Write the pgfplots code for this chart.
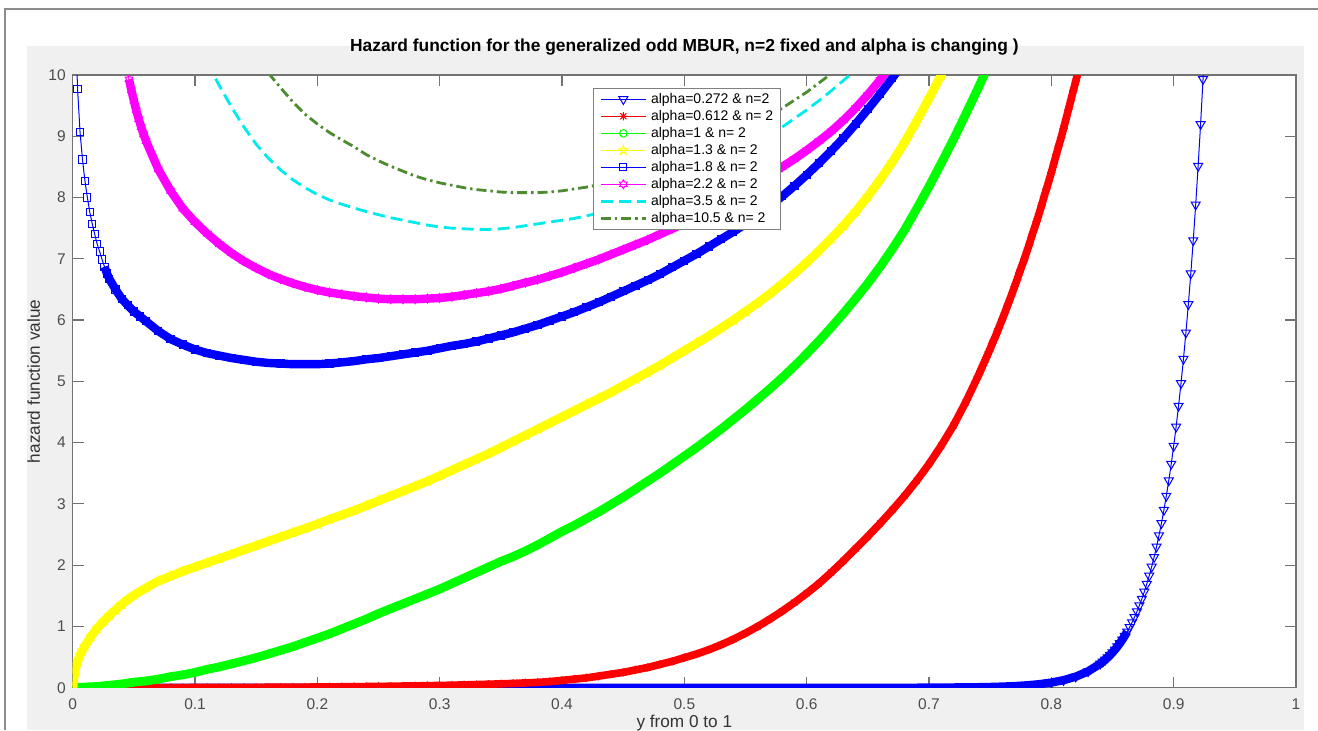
\documentclass[border=0pt]{standalone}
\usepackage{fontspec}
\setmainfont{Liberation Sans}
\usepackage{pgfplots}
\usepackage{pgfplotstable}
\pgfplotsset{compat=1.18}

\definecolor{figgray}{RGB}{240,240,240}
\definecolor{dkgreen}{rgb}{0.30,0.55,0.18}
\definecolor{mblue}{rgb}{0,0,1}
\definecolor{mred}{rgb}{1,0,0}
\definecolor{mgreen}{rgb}{0,1,0}
\definecolor{myellow}{rgb}{1,1,0}
\definecolor{mmagenta}{rgb}{1,0,1}
\definecolor{mcyan}{rgb}{0,0.92,0.92}

\pgfdeclareplotmark{mstar}{%
  \pgfpathmoveto{\pgfqpoint{-\pgfplotmarksize}{0pt}}%
  \pgfpathlineto{\pgfqpoint{\pgfplotmarksize}{0pt}}%
  \pgfpathmoveto{\pgfqpoint{0pt}{-\pgfplotmarksize}}%
  \pgfpathlineto{\pgfqpoint{0pt}{\pgfplotmarksize}}%
  \pgfpathmoveto{\pgfqpoint{-0.707\pgfplotmarksize}{-0.707\pgfplotmarksize}}%
  \pgfpathlineto{\pgfqpoint{0.707\pgfplotmarksize}{0.707\pgfplotmarksize}}%
  \pgfpathmoveto{\pgfqpoint{-0.707\pgfplotmarksize}{0.707\pgfplotmarksize}}%
  \pgfpathlineto{\pgfqpoint{0.707\pgfplotmarksize}{-0.707\pgfplotmarksize}}%
  \pgfusepathqstroke}
\pgfdeclareplotmark{pentagram}{%
  \pgfpathmoveto{\pgfpointpolar{90}{\pgfplotmarksize}}%
  \pgfpathlineto{\pgfpointpolar{126}{0.382\pgfplotmarksize}}%
  \pgfpathlineto{\pgfpointpolar{162}{\pgfplotmarksize}}%
  \pgfpathlineto{\pgfpointpolar{198}{0.382\pgfplotmarksize}}%
  \pgfpathlineto{\pgfpointpolar{234}{\pgfplotmarksize}}%
  \pgfpathlineto{\pgfpointpolar{270}{0.382\pgfplotmarksize}}%
  \pgfpathlineto{\pgfpointpolar{306}{\pgfplotmarksize}}%
  \pgfpathlineto{\pgfpointpolar{342}{0.382\pgfplotmarksize}}%
  \pgfpathlineto{\pgfpointpolar{18}{\pgfplotmarksize}}%
  \pgfpathlineto{\pgfpointpolar{54}{0.382\pgfplotmarksize}}%
  \pgfpathclose\pgfusepathqstroke}
\pgfdeclareplotmark{hexagram}{%
  \pgfpathmoveto{\pgfpointpolar{90}{\pgfplotmarksize}}%
  \pgfpathlineto{\pgfpointpolar{120}{0.577\pgfplotmarksize}}%
  \pgfpathlineto{\pgfpointpolar{150}{\pgfplotmarksize}}%
  \pgfpathlineto{\pgfpointpolar{180}{0.577\pgfplotmarksize}}%
  \pgfpathlineto{\pgfpointpolar{210}{\pgfplotmarksize}}%
  \pgfpathlineto{\pgfpointpolar{240}{0.577\pgfplotmarksize}}%
  \pgfpathlineto{\pgfpointpolar{270}{\pgfplotmarksize}}%
  \pgfpathlineto{\pgfpointpolar{300}{0.577\pgfplotmarksize}}%
  \pgfpathlineto{\pgfpointpolar{330}{\pgfplotmarksize}}%
  \pgfpathlineto{\pgfpointpolar{0}{0.577\pgfplotmarksize}}%
  \pgfpathlineto{\pgfpointpolar{30}{\pgfplotmarksize}}%
  \pgfpathlineto{\pgfpointpolar{60}{0.577\pgfplotmarksize}}%
  \pgfpathclose\pgfusepathqstroke}

% alpha = 0.272
\pgfplotstableread[row sep=\\]{
x y\\
0.00 0\\ 0.01 0\\ 0.02 0\\ 0.03 0\\ 0.04 0\\ 0.05 0\\ 0.06 0\\ 0.07 0\\ 0.08 0\\ 0.09 0\\
0.10 0\\ 0.11 0\\ 0.12 0\\ 0.13 0\\ 0.14 0\\ 0.15 0\\ 0.16 0\\ 0.17 0\\ 0.18 0\\ 0.19 0\\
0.20 0\\ 0.21 0\\ 0.22 0\\ 0.23 0\\ 0.24 0\\ 0.25 0\\ 0.26 0\\ 0.27 0\\ 0.28 0\\ 0.29 0\\
0.30 0\\ 0.31 0\\ 0.32 0\\ 0.33 0\\ 0.34 0\\ 0.35 0\\ 0.36 0\\ 0.37 0\\ 0.38 0\\ 0.39 0\\
0.40 0\\ 0.41 0\\ 0.42 0\\ 0.43 0\\ 0.44 0\\ 0.45 0\\ 0.46 0\\ 0.47 0\\ 0.48 0\\ 0.49 0\\
0.50 0\\ 0.51 0\\ 0.52 0\\ 0.53 0\\ 0.54 0\\ 0.55 0\\ 0.56 0\\ 0.57 0\\ 0.58 0\\ 0.59 0\\
0.60 0\\ 0.61 0\\ 0.62 0\\ 0.63 0\\ 0.64 0\\ 0.65 0\\ 0.66 0\\ 0.67 0\\ 0.68 0\\ 0.69 0\\
0.70 0.002\\ 0.71 0.003\\ 0.72 0.004\\ 0.73 0.006\\ 0.74 0.008\\ 0.75 0.012\\ 0.76 0.018\\
0.77 0.026\\ 0.78 0.039\\ 0.79 0.057\\ 0.80 0.084\\ 0.81 0.123\\ 0.82 0.181\\ 0.83 0.266\\
0.840 0.392\\ 0.842 0.423\\ 0.844 0.457\\ 0.846 0.494\\ 0.848 0.533\\ 0.850 0.575\\
0.852 0.621\\ 0.854 0.671\\ 0.856 0.725\\ 0.858 0.783\\ 0.860 0.846\\ 0.862 0.914\\
0.864 0.987\\ 0.866 1.066\\ 0.868 1.151\\ 0.870 1.243\\ 0.872 1.343\\ 0.874 1.450\\
0.876 1.566\\ 0.878 1.692\\ 0.880 1.827\\ 0.882 1.973\\ 0.884 2.131\\ 0.886 2.301\\
0.888 2.485\\ 0.890 2.684\\ 0.892 2.899\\ 0.894 3.131\\ 0.896 3.381\\ 0.898 3.652\\
0.900 3.944\\ 0.902 4.259\\ 0.904 4.600\\ 0.906 4.968\\ 0.908 5.366\\ 0.910 5.795\\
0.912 6.258\\ 0.914 6.759\\ 0.916 7.300\\ 0.918 7.884\\ 0.920 8.515\\ 0.922 9.196\\
0.924 9.932\\ 0.926 10.73\\
}\tblA

% alpha = 0.612
\pgfplotstableread[row sep=\\]{
x y\\
0.00 0\\ 0.01 0\\ 0.02 0\\ 0.03 0\\ 0.04 0\\ 0.05 0.001\\ 0.06 0.001\\ 0.07 0.001\\ 0.08 0.002\\ 0.09 0.002\\
0.10 0.003\\ 0.11 0.003\\ 0.12 0.004\\ 0.13 0.005\\ 0.14 0.005\\ 0.15 0.006\\ 0.16 0.007\\ 0.17 0.008\\ 0.18 0.009\\ 0.19 0.010\\
0.20 0.012\\ 0.21 0.013\\ 0.22 0.015\\ 0.23 0.017\\ 0.24 0.019\\ 0.25 0.021\\ 0.26 0.024\\ 0.27 0.027\\ 0.28 0.030\\ 0.29 0.033\\
0.30 0.037\\ 0.31 0.041\\ 0.32 0.046\\ 0.33 0.051\\ 0.34 0.057\\ 0.35 0.063\\ 0.36 0.070\\ 0.37 0.078\\ 0.38 0.087\\ 0.39 0.100\\
0.40 0.12\\ 0.41 0.14\\ 0.42 0.16\\ 0.43 0.19\\ 0.44 0.22\\ 0.45 0.25\\ 0.46 0.29\\ 0.47 0.33\\ 0.48 0.38\\ 0.49 0.43\\
0.50 0.49\\ 0.51 0.55\\ 0.52 0.62\\ 0.53 0.70\\ 0.54 0.79\\ 0.55 0.89\\ 0.56 1.00\\ 0.57 1.12\\ 0.58 1.25\\ 0.59 1.39\\
0.60 1.54\\ 0.61 1.70\\ 0.62 1.88\\ 0.63 2.07\\ 0.64 2.27\\ 0.65 2.47\\ 0.66 2.68\\ 0.67 2.90\\ 0.68 3.13\\ 0.69 3.38\\
0.70 3.65\\ 0.71 3.95\\ 0.72 4.28\\ 0.73 4.66\\
0.740 5.08\\ 0.742 5.17\\ 0.744 5.26\\ 0.746 5.35\\ 0.748 5.44\\ 0.750 5.53\\ 0.752 5.63\\ 0.754 5.72\\
0.756 5.82\\ 0.758 5.92\\ 0.760 6.02\\ 0.762 6.12\\ 0.764 6.23\\ 0.766 6.33\\ 0.768 6.44\\ 0.770 6.55\\
0.772 6.66\\ 0.774 6.78\\ 0.776 6.89\\ 0.778 7.00\\ 0.780 7.12\\ 0.782 7.24\\ 0.784 7.37\\ 0.786 7.49\\
0.788 7.61\\ 0.790 7.74\\ 0.792 7.87\\ 0.794 8.01\\ 0.796 8.14\\ 0.798 8.27\\ 0.800 8.41\\ 0.802 8.55\\
0.804 8.70\\ 0.806 8.84\\ 0.808 8.98\\ 0.810 9.13\\ 0.812 9.28\\ 0.814 9.44\\ 0.816 9.59\\ 0.818 9.75\\
0.820 9.90\\ 0.822 10.06\\
}\tblB

% alpha = 1
\pgfplotstableread[row sep=\\]{
x y\\
0.00 0.00\\ 0.01 0.01\\ 0.02 0.02\\ 0.03 0.04\\ 0.04 0.06\\ 0.05 0.09\\ 0.06 0.11\\ 0.07 0.14\\ 0.08 0.18\\ 0.09 0.21\\
0.10 0.25\\ 0.11 0.30\\ 0.12 0.34\\ 0.13 0.39\\ 0.14 0.44\\ 0.15 0.49\\ 0.16 0.55\\ 0.17 0.61\\ 0.18 0.67\\ 0.19 0.74\\
0.20 0.81\\ 0.21 0.88\\ 0.22 0.96\\ 0.23 1.04\\ 0.24 1.12\\ 0.25 1.21\\ 0.26 1.29\\ 0.27 1.37\\ 0.28 1.45\\ 0.29 1.53\\
0.30 1.61\\ 0.31 1.70\\ 0.32 1.79\\ 0.33 1.88\\ 0.34 1.97\\ 0.35 2.06\\ 0.36 2.14\\ 0.37 2.23\\ 0.38 2.33\\ 0.39 2.44\\
0.40 2.55\\ 0.41 2.65\\ 0.42 2.76\\ 0.43 2.87\\ 0.44 2.99\\ 0.45 3.11\\ 0.46 3.24\\ 0.47 3.37\\ 0.48 3.50\\ 0.49 3.64\\
0.50 3.78\\ 0.51 3.92\\ 0.52 4.07\\ 0.53 4.22\\ 0.54 4.38\\ 0.55 4.54\\ 0.56 4.71\\ 0.57 4.88\\ 0.58 5.06\\ 0.59 5.25\\
0.60 5.45\\ 0.61 5.66\\ 0.62 5.88\\ 0.63 6.11\\ 0.64 6.35\\ 0.65 6.60\\ 0.66 6.87\\ 0.67 7.16\\ 0.68 7.47\\ 0.69 7.82\\
0.70 8.18\\ 0.71 8.56\\ 0.72 8.95\\ 0.73 9.36\\ 0.74 9.78\\ 0.75 10.22\\
}\tblC

% alpha = 1.3
\pgfplotstableread[row sep=\\]{
x y\\
0.000 0.00\\ 0.002 0.30\\ 0.004 0.43\\ 0.006 0.53\\ 0.008 0.61\\ 0.010 0.68\\ 0.015 0.84\\ 0.020 0.97\\
0.025 1.08\\ 0.030 1.18\\ 0.035 1.27\\ 0.040 1.36\\ 0.045 1.44\\
0.05 1.51\\ 0.06 1.63\\ 0.07 1.74\\ 0.08 1.82\\ 0.09 1.90\\
0.10 1.97\\ 0.11 2.04\\ 0.12 2.11\\ 0.13 2.18\\ 0.14 2.25\\ 0.15 2.32\\ 0.16 2.39\\ 0.17 2.46\\ 0.18 2.53\\ 0.19 2.60\\
0.20 2.67\\ 0.21 2.75\\ 0.22 2.82\\ 0.23 2.89\\ 0.24 2.97\\ 0.25 3.05\\ 0.26 3.13\\ 0.27 3.21\\ 0.28 3.29\\ 0.29 3.37\\
0.30 3.46\\ 0.31 3.55\\ 0.32 3.64\\ 0.33 3.73\\ 0.34 3.82\\ 0.35 3.92\\ 0.36 4.02\\ 0.37 4.12\\ 0.38 4.22\\ 0.39 4.32\\
0.40 4.42\\ 0.41 4.52\\ 0.42 4.62\\ 0.43 4.72\\ 0.44 4.82\\ 0.45 4.93\\ 0.46 5.04\\ 0.47 5.15\\ 0.48 5.26\\ 0.49 5.38\\
0.50 5.50\\ 0.51 5.62\\ 0.52 5.74\\ 0.53 5.87\\ 0.54 6.00\\ 0.55 6.14\\ 0.56 6.28\\ 0.57 6.43\\ 0.58 6.59\\ 0.59 6.76\\
0.60 6.94\\ 0.61 7.13\\ 0.62 7.33\\ 0.63 7.54\\ 0.64 7.77\\ 0.65 8.02\\ 0.66 8.29\\ 0.67 8.58\\ 0.68 8.90\\ 0.69 9.25\\
0.70 9.62\\ 0.71 10.00\\ 0.72 10.40\\
}\tblD

% alpha = 1.8
\pgfplotstableread[row sep=\\]{
x y\\
0.002 10.90\\ 0.004 9.77\\ 0.006 9.07\\ 0.008 8.62\\ 0.010 8.27\\ 0.012 8.00\\ 0.014 7.76\\ 0.016 7.57\\
0.018 7.40\\ 0.020 7.24\\ 0.022 7.12\\ 0.024 6.99\\ 0.026 6.87\\ 0.028 6.76\\ 0.030 6.67\\ 0.035 6.50\\
0.040 6.35\\ 0.045 6.24\\ 0.050 6.14\\ 0.055 6.06\\
0.06 5.98\\ 0.07 5.82\\ 0.08 5.69\\ 0.09 5.60\\
0.10 5.52\\ 0.11 5.46\\ 0.12 5.42\\ 0.13 5.38\\ 0.14 5.35\\ 0.15 5.32\\ 0.16 5.30\\ 0.17 5.29\\ 0.18 5.28\\ 0.19 5.28\\
0.20 5.28\\ 0.21 5.29\\ 0.22 5.31\\ 0.23 5.33\\ 0.24 5.36\\ 0.25 5.38\\ 0.26 5.41\\ 0.27 5.44\\ 0.28 5.47\\ 0.29 5.50\\
0.30 5.54\\ 0.31 5.58\\ 0.32 5.61\\ 0.33 5.65\\ 0.34 5.70\\ 0.35 5.75\\ 0.36 5.80\\ 0.37 5.86\\ 0.38 5.92\\ 0.39 5.99\\
0.40 6.06\\ 0.41 6.13\\ 0.42 6.21\\ 0.43 6.29\\ 0.44 6.38\\ 0.45 6.47\\ 0.46 6.56\\ 0.47 6.65\\ 0.48 6.75\\ 0.49 6.86\\
0.50 6.97\\ 0.51 7.08\\ 0.52 7.20\\ 0.53 7.32\\ 0.54 7.44\\ 0.55 7.57\\ 0.56 7.71\\ 0.57 7.86\\ 0.58 8.02\\ 0.59 8.19\\
0.60 8.37\\ 0.61 8.56\\ 0.62 8.76\\ 0.63 8.97\\ 0.64 9.20\\ 0.65 9.44\\ 0.66 9.69\\ 0.67 9.95\\ 0.68 10.22\\
}\tblE

% alpha = 2.2
\pgfplotstableread[row sep=\\]{
x y\\
0.044 10.12\\ 0.046 9.93\\ 0.048 9.75\\ 0.050 9.58\\ 0.052 9.42\\ 0.054 9.28\\ 0.056 9.15\\ 0.058 9.03\\
0.06 8.92\\ 0.07 8.46\\ 0.08 8.11\\ 0.09 7.82\\
0.10 7.60\\ 0.11 7.41\\ 0.12 7.24\\ 0.13 7.09\\ 0.14 6.96\\ 0.15 6.85\\ 0.16 6.75\\ 0.17 6.67\\ 0.18 6.60\\ 0.19 6.54\\
0.20 6.49\\ 0.21 6.45\\ 0.22 6.42\\ 0.23 6.39\\ 0.24 6.37\\ 0.25 6.35\\ 0.26 6.34\\ 0.27 6.34\\ 0.28 6.34\\ 0.29 6.35\\
0.30 6.36\\ 0.31 6.38\\ 0.32 6.41\\ 0.33 6.44\\ 0.34 6.47\\ 0.35 6.51\\ 0.36 6.56\\ 0.37 6.61\\ 0.38 6.66\\ 0.39 6.72\\
0.40 6.78\\ 0.41 6.85\\ 0.42 6.92\\ 0.43 6.99\\ 0.44 7.07\\ 0.45 7.15\\ 0.46 7.23\\ 0.47 7.31\\ 0.48 7.40\\ 0.49 7.49\\
0.50 7.58\\ 0.51 7.68\\ 0.52 7.78\\ 0.53 7.89\\ 0.54 8.00\\ 0.55 8.12\\ 0.56 8.24\\ 0.57 8.37\\ 0.58 8.50\\ 0.59 8.63\\
0.60 8.77\\ 0.61 8.92\\ 0.62 9.08\\ 0.63 9.26\\ 0.64 9.46\\ 0.65 9.68\\ 0.66 9.92\\ 0.67 10.18\\
}\tblF

% alpha = 3.5
\pgfplotstableread[row sep=\\]{
x y\\
0.11 10.20\\ 0.12 9.82\\ 0.13 9.47\\ 0.14 9.15\\ 0.15 8.87\\ 0.16 8.64\\ 0.17 8.45\\ 0.18 8.29\\ 0.19 8.16\\
0.20 8.05\\ 0.21 7.96\\ 0.22 7.89\\ 0.23 7.83\\ 0.24 7.77\\ 0.25 7.72\\ 0.26 7.67\\ 0.27 7.63\\ 0.28 7.59\\ 0.29 7.55\\
0.30 7.52\\ 0.31 7.50\\ 0.32 7.49\\ 0.33 7.48\\ 0.34 7.48\\ 0.35 7.49\\ 0.36 7.51\\ 0.37 7.54\\ 0.38 7.57\\ 0.39 7.60\\
0.40 7.63\\ 0.41 7.66\\ 0.42 7.70\\ 0.43 7.75\\ 0.44 7.81\\ 0.45 7.87\\ 0.46 7.94\\ 0.47 8.01\\ 0.48 8.09\\ 0.49 8.17\\
0.50 8.26\\ 0.51 8.35\\ 0.52 8.45\\ 0.53 8.55\\ 0.54 8.66\\ 0.55 8.77\\ 0.56 8.89\\ 0.57 9.02\\ 0.58 9.15\\ 0.59 9.29\\
0.60 9.43\\ 0.61 9.58\\ 0.62 9.74\\ 0.63 9.91\\ 0.64 10.08\\
}\tblG

% alpha = 10.5
\pgfplotstableread[row sep=\\]{
x y\\
0.16 10.03\\ 0.17 9.79\\ 0.18 9.56\\ 0.19 9.36\\
0.20 9.20\\ 0.21 9.06\\ 0.22 8.94\\ 0.23 8.83\\ 0.24 8.70\\ 0.25 8.60\\ 0.26 8.51\\ 0.27 8.43\\ 0.28 8.35\\ 0.29 8.29\\
0.30 8.24\\ 0.31 8.20\\ 0.32 8.16\\ 0.33 8.13\\ 0.34 8.11\\ 0.35 8.09\\ 0.36 8.08\\ 0.37 8.08\\ 0.38 8.08\\ 0.39 8.09\\
0.40 8.11\\ 0.41 8.14\\ 0.42 8.17\\ 0.43 8.21\\ 0.44 8.26\\ 0.45 8.31\\ 0.46 8.37\\ 0.47 8.43\\ 0.48 8.50\\ 0.49 8.57\\
0.50 8.65\\ 0.51 8.73\\ 0.52 8.82\\ 0.53 8.91\\ 0.54 9.01\\ 0.55 9.11\\ 0.56 9.22\\ 0.57 9.34\\ 0.58 9.46\\ 0.59 9.59\\
0.60 9.72\\ 0.61 9.87\\ 0.62 10.02\\
}\tblH

\begin{document}
\begin{tikzpicture}
\path[use as bounding box] (0,0) rectangle (659pt,365pt);
\fill[white] (0,0) rectangle (659pt,365pt);
\fill[figgray] (13.5pt,0) rectangle (652pt,342pt);
\draw[black!45, line width=1pt] (2.5pt,0) -- (2.5pt,360.5pt) -- (659pt,360.5pt);
\begin{axis}[
  at={(36.35pt,21.15pt)}, anchor=south west,
  scale only axis, width=611.65pt, height=306.35pt,
  xmin=0, xmax=1, ymin=0, ymax=10,
  axis background/.style={fill=white},
  clip marker paths=true,
  axis line style={draw=black!55, line width=0.6pt},
  every tick/.style={draw=black!55, line width=0.6pt},
  major tick length=5.5pt,
  tick align=inside,
  xtick={0,0.1,0.2,0.3,0.4,0.5,0.6,0.7,0.8,0.9,1},
  xticklabels={0,0.1,0.2,0.3,0.4,0.5,0.6,0.7,0.8,0.9,1},
  ytick={0,1,2,3,4,5,6,7,8,9,10},
  yticklabels={0,1,2,3,4,5,6,7,8,9,10},
  /pgf/number format/assume math mode=true,
  tick label style={font=\fontsize{7.75}{9}\selectfont, text=black!70},
  xticklabel style={yshift=-2pt},
  title={Hazard function for the generalized odd MBUR, n=2 fixed and alpha is changing )},
  title style={at={(axis description cs:0.5,1)}, anchor=base, yshift=6pt, font=\bfseries\fontsize{8.7}{10}\selectfont},
  xlabel={y from 0 to 1},
  xlabel style={at={(axis description cs:0.5,0)}, anchor=base, yshift=-20pt, font=\fontsize{8.6}{10}\selectfont, text=black!80},
  ylabel={hazard function value},
  ylabel style={at={(axis description cs:-0.02673,0.5)}, anchor=base, font=\fontsize{8.6}{10}\selectfont, text=black!80},
  legend cell align=left,
  legend image code/.code={\draw[mark repeat=2,mark phase=2,#1] plot coordinates {(0pt,0pt) (11.25pt,0pt) (22.5pt,0pt)};},
  legend style={at={(axis description cs:0.4253,0.9788)}, anchor=north west,
    draw=black!50, line width=0.5pt, fill=white,
    font=\fontsize{7}{8}\selectfont, inner xsep=3pt, inner ysep=1.5pt,
    row sep=0.7pt, column sep=1.3pt,
    nodes={inner sep=0.6pt, text height=5.2pt, text depth=1.4pt}},
]
% alpha = 0.272
\addplot[mblue, line width=4.2pt, forget plot, restrict x to domain=0:0.862] table {\tblA};
\addplot[mblue, line width=0.5pt, mark=triangle, mark size=2.6pt, mark options={solid, rotate=180, line width=0.5pt}] table {\tblA};
\addlegendentry{alpha=0.272 \& n=2}
% alpha = 0.612
\addplot[mred, line width=3.8pt, forget plot] table {\tblB};
\addplot[mred, line width=0.5pt, mark=mstar, mark size=2.1pt, mark options={solid, line width=0.5pt}] table {\tblB};
\addlegendentry{alpha=0.612 \& n= 2}
% alpha = 1
\addplot[mgreen, line width=4.4pt, forget plot] table {\tblC};
\addplot[mgreen, line width=0.5pt, mark=o, mark size=1.9pt, mark options={solid, line width=0.5pt}] table {\tblC};
\addlegendentry{alpha=1 \& n= 2}
% alpha = 1.3
\addplot[myellow, line width=4.4pt, forget plot] table {\tblD};
\addplot[myellow, line width=0.5pt, mark=pentagram, mark size=2.3pt, mark options={solid, line width=0.5pt}] table {\tblD};
\addlegendentry{alpha=1.3 \& n= 2}
% alpha = 1.8
\addplot[mblue, line width=4.2pt, forget plot, restrict x to domain=0.026:0.7] table {\tblE};
\addplot[mblue, line width=0.5pt, mark=square, mark size=1.8pt, mark options={solid, line width=0.5pt}] table {\tblE};
\addlegendentry{alpha=1.8 \& n= 2}
% alpha = 2.2
\addplot[mmagenta, line width=4.2pt, forget plot, restrict x to domain=0.046:0.7] table {\tblF};
\addplot[mmagenta, line width=0.5pt, mark=hexagram, mark size=2.2pt, mark options={solid, line width=0.5pt}] table {\tblF};
\addlegendentry{alpha=2.2 \& n= 2}
% alpha = 3.5
\addplot[mcyan, line width=1.4pt, dash pattern=on 6pt off 3pt] table {\tblG};
\addlegendentry{alpha=3.5 \& n= 2}
% alpha = 10.5
\addplot[dkgreen, line width=1.4pt, dash pattern=on 5pt off 2pt on 1.2pt off 2pt] table {\tblH};
\addlegendentry{alpha=10.5 \& n= 2}
\end{axis}
\end{tikzpicture}
\end{document}
